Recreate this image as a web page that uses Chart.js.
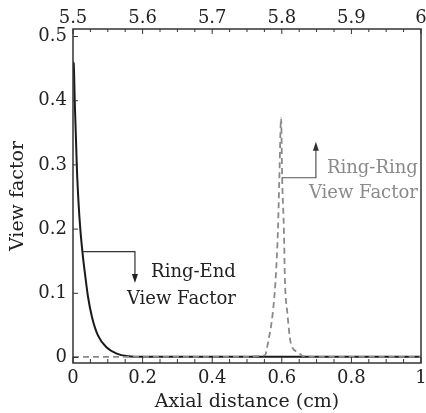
<!DOCTYPE html>
<html>
<head>
<meta charset="utf-8">
<title>View factor vs axial distance</title>
<script src="https://cdn.jsdelivr.net/npm/chart.js@4/dist/chart.umd.min.js"></script>
<style>
    html, body { margin: 0; padding: 0; background: #fff; }
    #wrap { width: 426px; height: 413px; }
</style>
</head>
<body>
<div id="wrap"><canvas id="viewChart" width="426" height="413"></canvas></div>
<script>
// Ring-End view factor (solid) - axial distance in cm
const ringEndX = [0, 0.002, 0.005, 0.0115, 0.016, 0.021, 0.028, 0.035, 0.043, 0.055, 0.072, 0.096, 0.124, 0.158, 0.2, 0.3, 0.5, 0.7, 1];
const ringEndY = [0.46, 0.458, 0.40, 0.29, 0.24, 0.20, 0.16, 0.128, 0.095, 0.062, 0.034, 0.016, 0.0065, 0.002, 0.001, 0.001, 0.001, 0.001, 0.001];

// Ring-Ring view factor (dashed)
const ringRingX = [0, 0.1, 0.2, 0.3, 0.4, 0.5, 0.53, 0.552, 0.56, 0.574, 0.582, 0.589, 0.593, 0.598, 0.601, 0.606, 0.609, 0.616, 0.626, 0.647, 0.661, 0.7, 0.8, 0.9, 1];
const ringRingY = [0.001, 0.001, 0.001, 0.001, 0.001, 0.001, 0.002, 0.004, 0.022, 0.069, 0.12, 0.2, 0.28, 0.373, 0.28, 0.2, 0.12, 0.069, 0.022, 0.008, 0.002, 0.001, 0.001, 0.001, 0.001];

const bottomTicks = [0, 0.2, 0.4, 0.6, 0.8, 1];
const topTicks = [5.5, 5.6, 5.7, 5.8, 5.9, 6];
const yTicks = [0, 0.1, 0.2, 0.3, 0.4, 0.5];

const FONT = 'DejaVu Serif';
const INK = '#222';
const GREY = '#8a8a8a';

function toPoints(xs, ys) {
    return xs.map((x, i) => ({ x: x, y: ys[i] }));
}

function line(ctx, x1, y1, x2, y2) {
    ctx.beginPath();
    ctx.moveTo(x1, y1);
    ctx.lineTo(x2, y2);
    ctx.stroke();
}

function arrowHead(ctx, x, y, dir) {
    // dir = 1 points down, -1 points up
    ctx.beginPath();
    ctx.moveTo(x, y);
    ctx.lineTo(x - 3, y - dir * 9);
    ctx.lineTo(x + 3, y - dir * 9);
    ctx.closePath();
    ctx.fill();
}

// frame, inward ticks and the two labelled leaders
const framePlugin = {
    id: 'frame',
    afterDatasetsDraw(chart) {
        const ctx = chart.ctx;
        const a = chart.chartArea;
        const x = chart.scales.x;
        const xt = chart.scales.xTop;
        const y = chart.scales.y;

        ctx.save();
        ctx.strokeStyle = '#333';
        ctx.lineWidth = 1.5;
        ctx.strokeRect(a.left, a.top, a.right - a.left, a.bottom - a.top);

        ctx.lineWidth = 1;
        for (let i = 0; i <= 20; i++) {
            const px = x.getPixelForValue(i * 0.05);
            line(ctx, px, a.bottom, px, a.bottom - (i % 4 === 0 ? 6 : 4));
        }
        for (let i = 0; i <= 20; i++) {
            const px = xt.getPixelForValue(5.5 + i * 0.025);
            line(ctx, px, a.top, px, a.top + (i % 4 === 0 ? 5 : 3));
        }
        yTicks.forEach(v => {
            const py = y.getPixelForValue(v);
            line(ctx, a.left, py, a.left + 5, py);
        });

        // Ring-End leader
        ctx.strokeStyle = '#333';
        ctx.fillStyle = '#222';
        ctx.lineWidth = 1.2;
        let x1 = x.getPixelForValue(0.029), x2 = x.getPixelForValue(0.178);
        let y1 = y.getPixelForValue(0.165), y2 = y.getPixelForValue(0.116);
        ctx.beginPath();
        ctx.moveTo(x1, y1);
        ctx.lineTo(x2, y1);
        ctx.lineTo(x2, y2 - 6);
        ctx.stroke();
        arrowHead(ctx, x2, y2, 1);

        // Ring-Ring leader
        ctx.strokeStyle = '#555';
        ctx.fillStyle = '#333';
        x1 = x.getPixelForValue(0.600);
        x2 = x.getPixelForValue(0.698);
        y1 = y.getPixelForValue(0.280);
        y2 = y.getPixelForValue(0.336);
        ctx.beginPath();
        ctx.moveTo(x1, y1);
        ctx.lineTo(x2, y1);
        ctx.lineTo(x2, y2 + 6);
        ctx.stroke();
        arrowHead(ctx, x2, y2, -1);

        ctx.font = '18px "' + FONT + '"';
        ctx.textAlign = 'right';
        ctx.textBaseline = 'middle';
        ctx.fillStyle = INK;
        ctx.fillText('Ring-End', x.getPixelForValue(0.468), y.getPixelForValue(0.132));
        ctx.fillText('View Factor', x.getPixelForValue(0.468), y.getPixelForValue(0.091));
        ctx.fillStyle = GREY;
        ctx.fillText('Ring-Ring', x.getPixelForValue(0.991), y.getPixelForValue(0.295));
        ctx.fillText('View Factor', x.getPixelForValue(0.991), y.getPixelForValue(0.256));
        ctx.restore();
    }
};

function fixedTicks(values) {
    return function(scale) {
        scale.ticks = values.map(v => ({ value: v }));
    };
}

const tickFont = { family: FONT, size: 18 };
const titleFont = { family: FONT, size: 19 };

new Chart(document.getElementById('viewChart'), {
    type: 'scatter',
    data: {
        datasets: [
            {
                label: 'Ring-Ring View Factor',
                data: toPoints(ringRingX, ringRingY),
                showLine: true,
                borderColor: GREY,
                borderWidth: 1.8,
                borderDash: [6, 4],
                pointRadius: 0,
                cubicInterpolationMode: 'monotone'
            },
            {
                label: 'Ring-End View Factor',
                data: toPoints(ringEndX, ringEndY),
                showLine: true,
                borderColor: '#1a1a1a',
                borderWidth: 2,
                pointRadius: 0,
                cubicInterpolationMode: 'monotone'
            }
        ]
    },
    options: {
        responsive: false,
        devicePixelRatio: 1,
        animation: false,
        layout: { padding: { right: 5 } },
        plugins: {
            legend: { display: false },
            tooltip: { enabled: false }
        },
        scales: {
            x: {
                type: 'linear',
                position: 'bottom',
                min: 0,
                max: 1,
                grid: { display: false, drawTicks: false },
                border: { display: false },
                afterBuildTicks: fixedTicks(bottomTicks),
                afterFit: function(s) { s.height = 50; s.paddingLeft = 0; s.paddingRight = 0; },
                ticks: { font: tickFont, color: INK, padding: 5, maxRotation: 0, callback: v => String(v) },
                title: { display: true, text: 'Axial distance (cm)', font: titleFont, color: INK, padding: 0 }
            },
            xTop: {
                type: 'linear',
                position: 'top',
                min: 5.5,
                max: 6,
                grid: { display: false, drawTicks: false },
                border: { display: false },
                afterBuildTicks: fixedTicks(topTicks),
                afterFit: function(s) { s.height = 29; s.paddingLeft = 0; s.paddingRight = 0; },
                ticks: { font: tickFont, color: INK, padding: 0, maxRotation: 0, callback: v => String(v) }
            },
            y: {
                type: 'linear',
                position: 'left',
                min: -0.00857,
                max: 0.5117,
                grid: { display: false, drawTicks: false },
                border: { display: false },
                afterBuildTicks: fixedTicks(yTicks),
                afterFit: function(s) { s.width = 73; s.paddingTop = 0; s.paddingBottom = 0; },
                ticks: { font: tickFont, color: INK, padding: 6, callback: v => String(v) },
                title: { display: true, text: 'View factor', font: titleFont, color: INK, padding: { top: 7 } }
            }
        }
    },
    plugins: [framePlugin]
});
</script>
</body>
</html>
